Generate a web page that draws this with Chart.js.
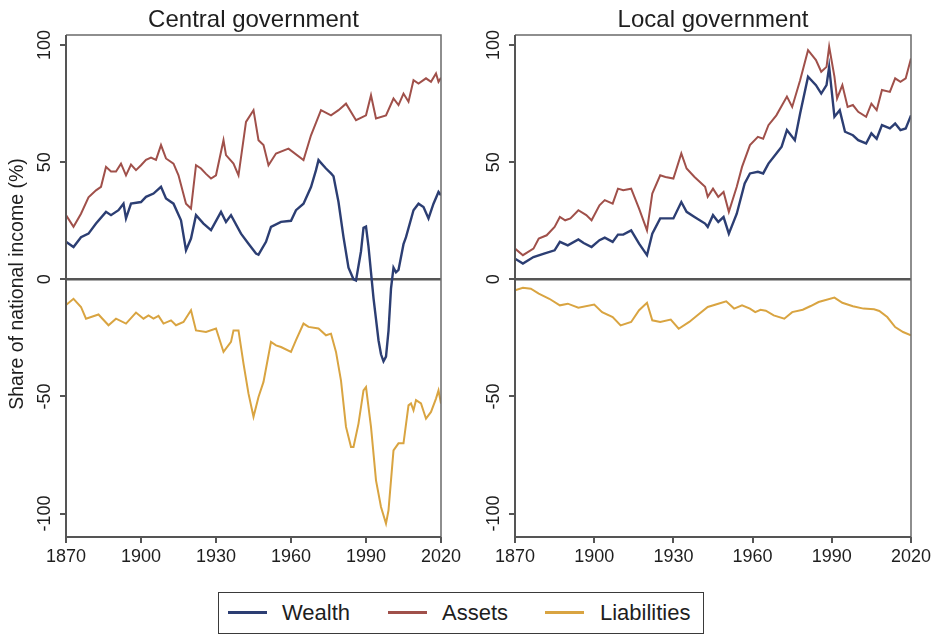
<!DOCTYPE html>
<html><head><meta charset="utf-8">
<script src="https://cdn.jsdelivr.net/npm/chart.js@4.4.0/dist/chart.umd.min.js"></script>
<style>
html,body{margin:0;padding:0;background:#fff;}
#wrap{position:relative;width:936px;height:635px;overflow:hidden;background:#fff;font-family:"Liberation Sans",Arial,Helvetica,sans-serif;}
canvas{position:absolute;top:0;}
#legend{position:absolute;left:218px;top:592px;width:486px;height:42px;border:1.5px solid #3a3a3a;box-sizing:border-box;}
.ln{position:absolute;top:18px;width:39px;height:3px;}
.lt{position:absolute;top:0;line-height:39px;font-size:22px;color:#1e1e1e;}
</style></head>
<body>
<div id="wrap">
  <canvas id="c1" width="470" height="580" style="left:0px;width:470px;height:580px"></canvas>
  <canvas id="c2" width="470" height="580" style="left:466px;width:470px;height:580px"></canvas>
  <div id="legend">
    <div class="ln" style="left:9px;background:#2c3e73"></div><span class="lt" style="left:63px">Wealth</span>
    <div class="ln" style="left:169px;background:#a0504a"></div><span class="lt" style="left:223px">Assets</span>
    <div class="ln" style="left:326px;background:#d9a441"></div><span class="lt" style="left:381px">Liabilities</span>
  </div>
</div>
<script>
// ---------- data ----------
const xTicks = [1870, 1900, 1930, 1960, 1990, 2020];
const yTicks = [-100, -50, 0, 50, 100];
const seriesNames = ["Wealth", "Assets", "Liabilities"];
const panelTitles = ["Central government", "Local government"];

// Central government
const cgWealthYears = [1870,1873,1876,1879,1882,1886,1888,1891,1893,1894,1896,1900,1902,1905,1908,1910,1913,1916,1918,1920,1922,1925,1928,1932,1934,1936,1940,1943,1946,1947,1950,1952,1956,1960,1962,1965,1968,1970,1971,1974,1976,1977,1979,1981,1983,1985,1986,1988,1989,1990,1991,1992,1993,1994,1995,1996,1997,1998,1999,2000,2001,2002,2003,2005,2006,2009,2011,2013,2015,2017,2019,2020];
const cgWealth = [16,13.8,18,19.5,23.8,28.8,27.4,29.5,32.3,26,32.3,33,35.2,36.6,39.5,34.5,32.3,25.2,12.4,17.4,27.4,23.8,21,28.8,24.5,27.4,19.5,15.2,11,10.5,16,22.4,24.5,25,29.5,32.3,39.4,46.6,50.9,47.3,45.2,44,33,18,5,0,-0.5,12,22,22.5,14,3,-8,-17,-26,-32,-35,-33,-22,-4,5,3,4,15,18,29.5,32.3,30.9,26,32.3,37.3,35.9];
const cgAssetsYears = [1870,1873,1876,1879,1882,1884,1886,1888,1890,1892,1894,1896,1898,1900,1902,1904,1906,1908,1910,1913,1915,1918,1920,1922,1924,1926,1928,1930,1933,1934,1937,1939,1942,1945,1947,1949,1951,1954,1959,1965,1968,1972,1976,1979,1982,1986,1990,1992,1994,1998,2001,2003,2005,2007,2009,2011,2014,2016,2018,2019,2020];
const cgAssets = [27.4,22.4,28,35,38,39.5,48,46,46,49.4,44.4,49,46.6,48.7,51,52,51,57.3,51.6,49.4,44.4,32.3,30.2,48.7,47.3,45,43,44.4,59.4,53,49.4,44.4,67.2,72.2,59.4,57.3,48.7,53.7,55.8,50.9,61.5,72.2,70,72.2,75,67.9,70,78.6,68.7,70,77.2,74.4,79.3,75.8,85,83.6,85.8,84.3,87.9,84.3,86];
const cgLiabYears = [1870,1873,1876,1878,1883,1887,1890,1894,1898,1901,1903,1905,1907,1909,1912,1914,1917,1920,1922,1926,1930,1933,1936,1937,1939,1941,1943,1945,1947,1949,1952,1954,1956,1960,1962,1965,1967,1971,1974,1976,1978,1980,1982,1984,1985,1987,1989,1990,1992,1994,1996,1998,1999,2001,2003,2005,2007,2008,2009,2010,2012,2014,2016,2018,2019,2020];
const cgLiab = [-11,-8.3,-11.8,-16.8,-15,-19.6,-16.8,-18.9,-14.2,-16.8,-15.4,-16.8,-15.6,-18.9,-17.5,-19.6,-18.2,-13.2,-21.8,-22.5,-21,-31,-26.7,-21.8,-21.8,-36,-48.8,-58.7,-50.2,-43.8,-26.7,-28.2,-28.9,-31,-26,-18.9,-20.3,-21,-23.9,-23.2,-31,-43.2,-63,-71.6,-71.6,-61.6,-47.4,-46,-63,-85.8,-97.2,-104.3,-98.6,-73,-70,-70,-53.8,-53,-55.9,-51.6,-53,-59.5,-56.6,-50.9,-47.4,-53];

// Local government
const lgWealthYears = [1870,1873,1877,1881,1885,1887,1890,1894,1896,1899,1902,1904,1907,1909,1911,1914,1917,1920,1922,1925,1927,1930,1933,1935,1938,1942,1943,1945,1947,1949,1951,1954,1957,1959,1962,1964,1966,1969,1971,1973,1976,1978,1981,1984,1986,1988,1989,1991,1993,1995,1998,2000,2003,2005,2007,2009,2012,2014,2016,2018,2020];
const lgWealth = [8.8,6.7,9.5,11,12.4,16,14.5,17,15.5,13.8,16.7,17.8,16,19.1,19.1,20.9,15.2,10.3,19.5,26,26,26,33,28.8,26.6,23.8,22.4,27.4,24.5,26.6,19.5,28,40.9,45.2,45.9,45.2,49.4,53.7,56.6,63.7,59.4,70.8,86.5,82.9,79.3,82.9,90.7,69.4,72.2,63,61.5,59.4,58,62.3,60,65.8,64.4,66.5,63.7,64.4,70];
const lgAssetsYears = [1870,1873,1877,1879,1882,1885,1887,1889,1891,1894,1897,1899,1902,1904,1907,1909,1911,1914,1917,1920,1922,1925,1927,1930,1933,1935,1938,1942,1943,1945,1947,1949,1951,1954,1956,1959,1962,1964,1966,1969,1973,1975,1978,1981,1984,1986,1988,1989,1991,1992,1994,1996,1998,2000,2003,2005,2007,2009,2012,2014,2016,2018,2020];
const lgAssets = [13.1,10.3,13.1,17.4,18.8,22.4,26.6,25.2,26,29.5,27.4,25.2,31.6,33.8,32.3,38.7,38,38.7,30.2,20.9,36.6,44.4,43.7,43,53.7,47.3,43.7,39.5,35.2,38.7,35.2,37.3,28.8,39.5,48,57.3,60.8,60,65.8,70,78,73.6,85,97.8,93.6,88.6,90.7,99.3,86.5,77.2,82.9,73.6,74.4,71.5,69.4,75,72.2,80.8,80,85.8,84.3,85.8,94.3];
const lgLiabYears = [1870,1873,1876,1879,1883,1887,1890,1894,1900,1903,1907,1910,1914,1917,1920,1922,1925,1929,1932,1936,1939,1943,1947,1950,1953,1956,1959,1961,1963,1965,1968,1972,1975,1979,1982,1985,1991,1994,1998,2002,2006,2008,2011,2014,2017,2020];
const lgLiab = [-4.7,-3.6,-4,-6.1,-8.3,-11.1,-10.4,-12.1,-10.8,-14,-16.1,-19.7,-18.2,-13.2,-10,-17.5,-18.2,-17.2,-21.1,-18.2,-15.4,-11.8,-10.4,-9.4,-12.5,-11.1,-12.5,-14,-13,-13.4,-15.4,-16.8,-14,-13,-11.4,-9.7,-7.8,-10,-11.5,-12.5,-12.8,-13.5,-16.1,-20.4,-22.5,-23.9];

// ---------- styles ----------
const COLORS = ["#2c3e73", "#a0504a", "#d9a441"];
const FONT = '"Liberation Sans", Arial, Helvetica, sans-serif';
const AXIS = "#555555";
const TEXT = "#1e1e1e";

function pts(xs, ys) { return xs.map((x, i) => ({ x: x, y: ys[i] })); }

const decor = {
  id: 'decor',
  beforeDatasetsDraw(chart, args, o) {
    const { ctx, chartArea: a, scales: { y } } = chart;
    const y0 = y.getPixelForValue(0);
    ctx.save();
    ctx.strokeStyle = AXIS; ctx.lineWidth = 2.5;
    ctx.beginPath(); ctx.moveTo(a.left, y0); ctx.lineTo(a.right, y0); ctx.stroke();
    ctx.restore();
  },
  afterDraw(chart, args, o) {
    const { ctx, chartArea: a, scales: { y } } = chart;
    ctx.save();
    // plot box
    ctx.strokeStyle = "#6a6a6a"; ctx.lineWidth = 1.5;
    ctx.beginPath(); ctx.moveTo(a.left, a.top); ctx.lineTo(a.right, a.top); ctx.lineTo(a.right, a.bottom); ctx.stroke();
    ctx.strokeStyle = AXIS; ctx.lineWidth = 2;
    ctx.beginPath(); ctx.moveTo(a.left, a.top); ctx.lineTo(a.left, a.bottom); ctx.lineTo(a.right, a.bottom); ctx.stroke();
    // rotated y tick labels
    ctx.fillStyle = TEXT;
    ctx.font = '18px ' + FONT;
    ctx.textAlign = 'center'; ctx.textBaseline = 'middle';
    y.ticks.forEach(t => {
      const py = y.getPixelForValue(t.value);
      ctx.save(); ctx.translate(a.left - 22, py); ctx.rotate(-Math.PI / 2);
      ctx.fillText(String(t.value), 0, 1); ctx.restore();
    });
    // title
    ctx.font = '24px ' + FONT;
    ctx.textBaseline = 'alphabetic';
    ctx.fillText(o.title, (a.left + a.right) / 2, 27);
    // y axis title
    if (o.yTitle) {
      ctx.font = '19.5px ' + FONT;
      ctx.save(); ctx.translate(18, 284); ctx.rotate(-Math.PI / 2);
      ctx.textBaseline = 'middle';
      ctx.fillText(o.yTitle, 0, 0); ctx.restore();
    }
    ctx.restore();
  }
};

function makeChart(id, yWidth, padRight, title, yTitle, data) {
  const ds = data.map((d, i) => ({
    label: seriesNames[i], data: d, borderColor: COLORS[i], backgroundColor: COLORS[i],
    borderWidth: i === 0 ? 2.4 : 2, pointRadius: 0, tension: 0, fill: false
  }));
  return new Chart(document.getElementById(id), {
    type: 'line',
    data: { datasets: ds },
    options: {
      responsive: false, animation: false, devicePixelRatio: 1,
      layout: { padding: { top: 35, right: padRight, left: 0, bottom: 0 } },
      plugins: { legend: { display: false }, tooltip: { enabled: false }, title: { display: false },
        decor: { title: title, yTitle: yTitle } },
      scales: {
        x: {
          type: 'linear', min: 1870, max: 2020,
          afterBuildTicks: s => { s.ticks = xTicks.map(v => ({ value: v })); },
          afterFit: s => { s.height = 43; },
          ticks: { callback: v => String(v), color: TEXT, font: { family: FONT, size: 18 }, padding: 3, maxRotation: 0, autoSkip: false },
          grid: { drawOnChartArea: false, drawTicks: true, tickLength: 6, tickColor: AXIS, lineWidth: 2 },
          border: { display: false }
        },
        y: {
          type: 'linear', min: -110, max: 104.3,
          afterBuildTicks: s => { s.ticks = yTicks.map(v => ({ value: v })); },
          afterFit: s => { s.width = yWidth; },
          ticks: { color: 'rgba(0,0,0,0)', font: { family: FONT, size: 18 } },
          grid: { drawOnChartArea: false, drawTicks: true, tickLength: 6, tickColor: AXIS, lineWidth: 2 },
          border: { display: false }
        }
      }
    },
    plugins: [decor]
  });
}

makeChart('c1', 66, 29, panelTitles[0], 'Share of national income (%)',
  [pts(cgWealthYears, cgWealth), pts(cgAssetsYears, cgAssets), pts(cgLiabYears, cgLiab)]);
makeChart('c2', 49, 25, panelTitles[1], null,
  [pts(lgWealthYears, lgWealth), pts(lgAssetsYears, lgAssets), pts(lgLiabYears, lgLiab)]);
</script>
</body></html>
